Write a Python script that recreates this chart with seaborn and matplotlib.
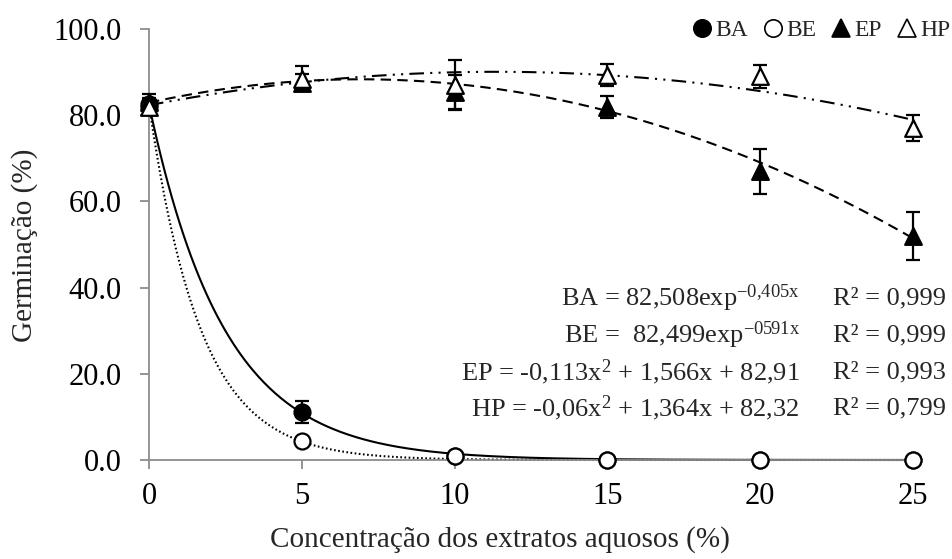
import numpy as np
import pandas as pd
import seaborn as sns
import matplotlib
matplotlib.use("Agg")
import matplotlib.pyplot as plt
from matplotlib.lines import Line2D

# Concentrations of aqueous extracts (%)
conc = [0, 5, 10, 15, 20, 25]

# Mean germination (%) per extract
ba = [82.5, 11.1, 1.0, 0.0, 0.0, 0.0]
be = [82.0, 4.3, 1.0, 0.0, 0.0, 0.0]
ep = [83.0, 87.5, 85.4, 81.9, 67.0, 52.0]
hp = [82.0, 88.5, 87.0, 89.3, 89.0, 77.0]

# Standard errors
ba_err = [1.5, 2.6, 0.3, 0.0, 0.0, 0.0]
be_err = [1.0, 0.3, 0.3, 0.0, 0.0, 0.0]
ep_err = [2.0, 2.0, 4.0, 2.6, 5.2, 5.5]
hp_err = [1.5, 3.0, 5.8, 2.6, 2.6, 3.0]

# Fitted models
ba_fit = (82.508, -0.405)
be_fit = (82.499, -0.591)
ep_fit = (-0.113, 1.566, 82.91)
hp_fit = (-0.06, 1.364, 82.32)

equations = [
    r"BA = 82,508exp$^{-0{,}405x}$",
    r"BE =  82,499exp$^{-0591x}$",
    r"EP = -0,113x$^{2}$ + 1,566x + 82,91",
    r"HP = -0,06x$^{2}$ + 1,364x + 82,32",
]
r2_labels = ["R² = 0,999", "R² = 0,999", "R² = 0,993", "R² = 0,799"]
series = ["BA", "BE", "EP", "HP"]

yticks = [0, 20, 40, 60, 80, 100]
xticks = [0, 5, 10, 15, 20, 25]

sns.set_style("ticks")
plt.rcParams["font.family"] = ["Liberation Serif", "DejaVu Sans"]
plt.rcParams["mathtext.fontset"] = "custom"
plt.rcParams["mathtext.rm"] = "Liberation Serif"
plt.rcParams["mathtext.default"] = "regular"

fig = plt.figure(figsize=(9.52, 5.59), dpi=100)
ax = fig.add_axes([149 / 952, 1 - 460 / 559, (913 - 149) / 952, (460 - 29) / 559])

xs = np.linspace(0, 25, 400)
curves = pd.DataFrame({
    "x": np.concatenate([xs] * 4),
    "y": np.concatenate([
        ba_fit[0] * np.exp(ba_fit[1] * xs),
        be_fit[0] * np.exp(be_fit[1] * xs),
        np.polyval(ep_fit, xs),
        np.polyval(hp_fit, xs),
    ]),
    "serie": np.repeat(series, len(xs)),
})

lw = 1.5
dashes = {
    "BA": "-",
    "BE": (0, (0.8, 1.2)),
    "EP": (0, (5, 3)),
    "HP": (0, (7, 3, 1, 3, 1, 3)),
}
for name in ["HP", "EP", "BE", "BA"]:
    sub = curves[curves["serie"] == name]
    sns.lineplot(data=sub, x="x", y="y", ax=ax, color="black", lw=lw,
                 linestyle=dashes[name], clip_on=False, zorder=2)

# Error bars
for vals, errs in [(ba, ba_err), (be, be_err), (ep, ep_err), (hp, hp_err)]:
    ax.errorbar(conc, vals, yerr=errs, fmt="none", ecolor="black",
                elinewidth=1.6, capsize=5, capthick=1.6, clip_on=False, zorder=3)

points = pd.DataFrame({
    "x": conc * 4,
    "y": ba + be + ep + hp,
    "serie": ["BA"] * 6 + ["BE"] * 6 + ["EP"] * 6 + ["HP"] * 6,
})
marker_kw = {
    "BA": dict(marker="o", color="black", s=11.5 ** 2),
    "BE": dict(marker="o", color="white", s=11.5 ** 2),
    "EP": dict(marker="^", color="black", s=12 ** 2),
    "HP": dict(marker="^", color="white", s=12 ** 2),
}
for k, name in enumerate(series):
    sub = points[points["serie"] == name]
    sns.scatterplot(data=sub, x="x", y="y", ax=ax, edgecolor="black",
                    linewidth=1.6, clip_on=False, zorder=4 + k, **marker_kw[name])

ax.set_xlim(0, 25)
ax.set_ylim(0, 100)
ax.set_xticks(xticks)
ax.set_xticklabels([str(v) for v in xticks])
ax.set_yticks(yticks)
ax.set_yticklabels([f"{v:.1f}" for v in yticks])
ax.set_xlabel("")
ax.set_ylabel("")

sns.despine(ax=ax)
for side in ["left", "bottom"]:
    ax.spines[side].set_color("#8c8c8c")
    ax.spines[side].set_linewidth(1.3)
ax.tick_params(axis="both", colors="#8c8c8c", labelcolor="black",
               labelsize=22, length=6.5, width=1.3, direction="out")
ax.tick_params(axis="y", pad=13)
ax.tick_params(axis="x", pad=9)

fig.text(500 / 952, 1 - 540 / 559, "Concentração dos extratos aquosos (%)",
         ha="center", va="center", fontsize=21)
fig.text(25 / 952, 1 - 245 / 559, "Germinação (%)", rotation=90,
         ha="center", va="center", fontsize=21)

# Legend
handles = [
    Line2D([], [], ls="none", marker="o", ms=12.5, mfc="black", mec="black", mew=1.2),
    Line2D([], [], ls="none", marker="o", ms=12.5, mfc="white", mec="black", mew=1.2),
    Line2D([], [], ls="none", marker="^", ms=13.5, mfc="black", mec="black", mew=1.2),
    Line2D([], [], ls="none", marker="^", ms=13.5, mfc="white", mec="black", mew=1.2),
]
fig.legend(handles, series, loc="center right", bbox_to_anchor=(950 / 952, 1 - 30 / 559),
           ncol=4, frameon=False, fontsize=17, handlelength=0.85, handletextpad=0.12,
           columnspacing=0.65, borderpad=0, borderaxespad=0)

# Model equations
rows_y = [298, 335, 372, 408]
for eq, r2, yy in zip(equations, r2_labels, rows_y):
    fig.text(800 / 952, 1 - yy / 559, eq, ha="right", va="center", fontsize=19)
    fig.text(833 / 952, 1 - yy / 559, r2, ha="left", va="center", fontsize=19)

fig.savefig("out.png", dpi=100)
